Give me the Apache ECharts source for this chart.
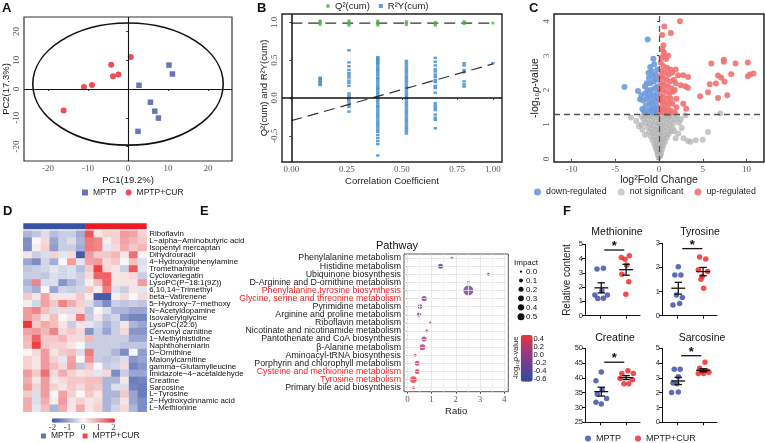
<!DOCTYPE html>
<html><head><meta charset="utf-8">
<script src="https://cdn.jsdelivr.net/npm/echarts@6/dist/echarts.min.js"></script>
<style>html,body{margin:0;padding:0;background:#fff}#c{width:765px;height:443px}</style>
</head><body><div id="c"></div>
<script>
// ===== A: PCA scores =====
const pcaMPTP = [[10.25,8.3],[11.1,5.2],[2.75,1.3],[5.6,-4.6],[6.7,-7.7],[7.6,-10.1],[2.5,-14.7]];
const pcaCUR = [[-16.1,-7.5],[-11,0.7],[-9,1.4],[-4.2,8.4],[-3.75,4.4],[-2.4,5.0],[0.7,11.1]];
const pcaEllipse = [[0,1.7,23.8,21.2]];
const pcaXTicks = [-20,-10,0,10,20];
const pcaYTicks = [-20,-10,0,10,20];

// ===== B: permutation test =====
const permX = [0.143,0.286,0.429,0.571,0.714,0.857,1.0];
const q2Cols = [[0.97,0.99,1.01,1.02],[0.96,0.98,1.0,1.02],[0.96,0.98,1.0,1.02],[0.97,0.99,1.01],[0.96,0.98,1.0],[0.98,1.0,1.01],[0.99]];
const r2Cols = [
  [0.17,0.19,0.21,0.23,0.25,0.27],
  [0.63,0.47,0.42,0.37,0.33,0.3,0.27,0.23,0.2,0.16,0.06,0.03,0.0,-0.03,-0.06,-0.09,-0.12,-0.18],
  [0.54,0.52,0.5,0.48,0.46,0.44,0.41,0.38,0.36,0.33,0.3,0.27,0.25,0.22,0.19,0.16,0.13,0.11,0.08,0.05,0.02,-0.01,-0.04,-0.07,-0.1,-0.12,-0.15,-0.18,-0.21,-0.24,-0.27,-0.3,-0.33,-0.36,-0.39,-0.42,-0.45,-0.49,-0.53,-0.57,-0.61,-0.76],
  [0.49,0.46,0.43,0.4,0.37,0.34,0.31,0.28,0.25,0.22,0.19,0.16,0.13,0.1,0.07,0.04,0.01,-0.02,-0.05,-0.08,-0.11,-0.14,-0.17,-0.2,-0.23,-0.26,-0.29,-0.32,-0.35,-0.38,-0.41,-0.44,-0.47],
  [0.53,0.48,0.43,0.38,0.35,0.31,0.28,0.24,0.21,0.16,0.13,0.07,-0.07,-0.1,-0.13,-0.16,-0.22,-0.26,-0.29,-0.4],
  [0.46,0.43,0.37,0.34,0.22,0.18,0.15],
  [0.46]
];
const r2Fit = [[0,-0.3],[1,0.45]];
const q2Fit = [[0,0.99],[1,0.99]];
const permTickPos = [0,0.276,0.549,0.823,1.0];
const permTickText = ['0.00','0.25','0.50','0.75','1.00'];
const permYTicks = [-0.5,0,0.5,1];

// ===== C: volcano =====
const pCut = 1.3;
const volDown = [[-1.29,3.47],[-3.94,2.09],[-0.64,2.91],[-1.0,2.67],[-0.55,2.75],[-1.2,2.5],[-0.85,2.55],[-1.15,2.35],[-0.7,2.4],[-0.4,2.45],[-1.4,2.2],[-1.0,2.2],[-0.6,2.25],[-0.3,2.3],[-2.4,1.97],[-2.16,1.73],[-1.78,1.41],[-2.0,1.85],[-1.6,1.9],[-1.3,2.0],[-0.9,2.0],[-0.5,2.05],[-0.2,2.1],[-1.8,1.7],[-1.4,1.75],[-1.0,1.8],[-0.6,1.85],[-0.25,1.9],[-1.5,1.55],[-1.1,1.6],[-0.8,1.65],[-0.45,1.7],[-0.15,1.75],[-1.9,1.45],[-1.2,1.4],[-0.9,1.45],[-0.6,1.5],[-0.3,1.55],[-1.6,1.35],[-0.4,1.38],[-0.1,1.42],[-0.7,1.35],[-1.1,1.9],[-0.2,2.6],[-1.6,2.1]];
const volNS = [[-0.05,0.04],[0.08,0.07],[-0.12,0.12],[0.15,0.1],[0.02,0.18],[-0.22,0.2],[0.25,0.17],[0.1,0.26],[-0.3,0.27],[-0.08,0.3],[0.35,0.28],[0.2,0.36],[-0.42,0.35],[-0.15,0.4],[0.5,0.38],[0.05,0.45],[-0.55,0.44],[0.38,0.47],[-0.3,0.5],[0.7,0.5],[0.15,0.55],[-0.75,0.55],[-0.12,0.6],[0.55,0.58],[0.9,0.62],[-0.5,0.63],[0.3,0.66],[-0.95,0.66],[0.0,0.7],[-0.3,0.72],[0.75,0.7],[1.1,0.72],[-0.7,0.76],[0.45,0.78],[-1.15,0.78],[0.15,0.82],[1.35,0.8],[-0.45,0.84],[0.95,0.86],[-0.9,0.88],[-0.15,0.9],[0.6,0.92],[1.55,0.9],[-1.3,0.93],[0.3,0.97],[-0.6,0.98],[1.2,0.98],[-1.05,1.02],[0.0,1.03],[0.85,1.04],[-1.55,1.05],[1.65,1.05],[-0.35,1.08],[0.5,1.1],[-0.8,1.12],[1.3,1.12],[-1.35,1.15],[0.2,1.16],[-1.8,1.17],[1.0,1.18],[-0.1,1.2],[1.9,1.15],[-0.6,1.22],[0.7,1.24],[-1.1,1.25],[1.5,1.24],[-1.6,1.27],[0.35,1.27],[-0.3,1.28],[2.05,1.26],[1.15,1.28],[-2.0,1.24],[0.9,1.29],[-0.85,1.29],[-2.3,0.95],[-3.2,1.2],[-2.6,1.1],[2.5,1.15],[3.0,1.27],[7.0,1.32],[5.6,0.78],[5.0,0.56],[4.2,0.54],[3.3,0.52],[2.8,0.6],[2.2,0.74],[2.6,0.9],[3.6,0.5],[1.9,0.6],[-1.6,0.7],[-2.0,1.0],[1.75,0.8],[2.3,1.05],[-1.9,0.85]];
const volUp = [[0.6,3.85],[2.4,4.0],[1.36,3.66],[0.4,3.17],[0.55,3.1],[1.06,3.0],[0.8,2.9],[5.98,2.77],[7.4,2.88],[7.4,2.82],[8.75,2.77],[10.15,2.8],[10.8,2.48],[10.15,2.4],[10.4,2.45],[8.25,2.46],[6.74,2.42],[7.12,2.36],[7.5,2.24],[6.5,2.19],[5.8,2.17],[5.6,1.94],[4.7,1.82],[6.74,1.77],[7.8,1.85],[2.77,2.43],[3.33,2.38],[2.2,2.43],[2.5,2.14],[3.0,2.11],[3.3,2.07],[2.77,1.6],[3.1,1.46],[2.0,1.5],[1.8,1.35],[0.2,2.8],[0.5,2.7],[0.9,2.65],[1.3,2.6],[0.3,2.55],[0.7,2.5],[1.1,2.45],[1.5,2.5],[0.15,2.4],[0.45,2.35],[0.85,2.3],[1.25,2.25],[1.7,2.3],[0.25,2.2],[0.6,2.15],[1.0,2.1],[1.4,2.05],[0.1,2.05],[0.4,2.0],[0.8,1.95],[1.2,1.9],[1.6,1.95],[0.2,1.85],[0.55,1.8],[0.95,1.75],[1.35,1.75],[0.1,1.7],[0.4,1.65],[0.75,1.6],[1.15,1.6],[1.55,1.6],[0.25,1.5],[0.6,1.45],[1.0,1.45],[1.35,1.4],[0.1,1.4],[0.45,1.35],[0.85,1.33],[1.2,1.32],[0.3,2.95],[0.65,3.0],[1.9,2.6],[1.8,2.0],[2.0,1.75],[1.9,2.2],[0.35,3.6],[0.5,3.3]];
const volXTicks = [-10,-5,0,5,10];
const volYTicks = [0,1,2,3,4];

// ===== D: heatmap =====
const metabolites = ['Riboflavin','L\u2212alpha\u2212Aminobutyric acid','Isopentyl mercaptan','Dihydrouracil','4\u2212Hydroxydiphenylamine','Tromethamine','Cyclovariegatin','LysoPC(P\u221218:1(9Z))','6,10,14\u2212Trimethyl','beta\u2212Vatirenene','5\u2212Hydroxy\u22127\u2212methoxy','N\u2212Acetyldopamine','Isovalerylglycine','LysoPC(22:6)','Cervonyl carnitine','1\u2212Methylhistidine','Naphthoherniarin','D\u2212Ornithine','Malonylcarnitine','gamma\u2212Glutamylleucine','Imidazole\u22124\u2212acetaldehyde','Creatine','Sarcosine','L\u2212Tyrosine','2\u2212Hydroxycinnamic acid','L\u2212Methionine'];
const samples = ['M1','M2','M3','M4','M5','M6','M7','C1','C2','C3','C4','C5','C6','C7'];
const groupSizes = [7,7];
const heatRows = [
[-0.8,-0.6,-0.3,-0.7,-0.5,-0.5,-0.9,1.6,0.2,0.4,0.4,1.0,0.9,0.4],
[-1.3,0.0,0.3,-1.0,-0.5,-0.3,-0.8,1.3,1.2,0.1,0.4,0.9,0.7,0.5],
[-1.3,0.1,0.4,-1.1,-0.5,-0.5,-0.9,1.3,1.2,-0.2,0.3,0.8,0.5,0.7],
[0.2,-0.5,-0.3,0.4,-0.2,0.3,-1.9,1.0,0.5,0.5,0.7,0.2,1.4,0.0],
[-1.0,-1.3,-0.4,-0.9,0.0,1.0,-0.2,0.9,1.0,0.3,0.5,0.0,0.6,-0.3],
[-0.6,-0.5,-0.4,-0.2,-0.4,-0.3,-0.7,0.5,1.8,0.3,0.2,-0.5,1.6,-0.2],
[-0.5,-0.5,-0.6,-0.3,-0.4,-0.3,-0.5,0.3,1.5,1.5,0.2,0.2,0.3,-0.5],
[-0.8,1.2,-0.3,-0.3,-1.2,-0.8,-0.5,0.1,0.6,1.5,0.2,0.2,0.2,1.0],
[-0.6,-0.9,0.0,-1.0,-0.4,-0.5,-0.4,0.5,0.1,1.3,-0.3,-0.5,0.2,-0.2],
[0.5,0.2,0.9,0.2,0.2,0.2,0.5,0.1,-1.9,-1.9,0.1,0.3,0.0,0.3],
[0.1,-0.4,0.9,0.5,1.2,0.8,0.4,-0.3,-0.8,-1.3,-0.5,-0.6,-0.5,-0.6],
[1.0,1.2,0.6,-0.3,0.3,-0.3,0.3,-0.6,0.0,-0.3,-0.8,-0.8,-1.0,-1.0],
[1.0,0.7,0.2,0.6,0.0,0.2,1.3,-0.5,0.2,-0.6,-0.4,-1.2,-1.4,-1.4],
[1.9,0.5,0.8,0.6,0.2,-0.5,0.2,-0.2,-0.4,-0.8,-0.5,0.2,-0.8,-1.0],
[0.9,1.0,0.7,1.2,0.3,0.5,0.3,-1.2,-0.5,-1.0,-0.5,0.3,-1.2,-1.2],
[0.7,1.5,0.5,0.5,0.7,0.3,0.3,0.7,-0.5,-0.5,-0.5,-0.5,-1.0,-1.0],
[0.6,1.8,0.5,0.4,0.4,0.2,0.0,-0.5,-0.5,-0.5,-0.5,-0.6,-0.6,-0.6],
[0.0,0.3,1.0,0.2,0.5,0.6,-0.3,1.3,-0.5,-0.5,-0.8,-1.3,0.0,-1.1],
[0.4,0.2,1.0,0.4,-0.2,0.9,0.0,1.1,-0.5,-0.6,-0.5,-0.3,-1.2,-1.0],
[0.4,0.2,1.0,0.6,0.3,1.0,-0.6,0.5,0.0,-0.5,-0.4,0.3,-1.4,-1.2],
[1.0,0.5,1.4,0.3,0.8,0.4,0.2,0.3,-0.2,0.3,-1.3,-0.5,-1.0,-1.0],
[0.8,0.2,1.0,0.2,0.3,0.5,0.5,0.6,0.6,-0.8,-0.8,0.2,-1.5,-1.4],
[1.0,0.4,1.0,0.4,0.2,0.5,0.3,0.6,0.5,-0.8,-0.3,-0.3,-1.4,-1.5],
[0.5,-0.3,1.0,0.0,0.9,0.4,0.0,0.5,0.2,-0.8,-0.8,0.5,-1.0,-1.5],
[0.8,-0.3,0.8,0.1,1.0,0.2,0.4,0.2,0.3,-0.8,-0.6,0.2,-1.0,-1.3],
[0.8,-0.2,0.6,-0.8,0.8,0.2,0.8,0.2,0.4,-0.8,-0.4,0.3,-0.8,-1.3]
];
const heatScaleLabels = ['-2','-1','0','1','2'];

// ===== E: pathway bubble =====
const pathways = ['Phenylalanine metabolism','Histidine metabolism','Ubiquinone biosynthesis','D-Arginine and D-ornithine metabolism','Phenylalanine,tyrosine biosynthesis','Glycine, serine and threonine metabolism','Pyrimidine metabolism','Arginine and proline metabolism','Riboflavin metabolism','Nicotinate and nicotinamide metabolism','Pantothenate and CoA biosynthesis','\u03b2-Alanine metabolism','Aminoacyl-tRNA biosynthesis','Porphyrin and chlorophyll metabolism','Cysteine and methionine metabolism','Tyrosine metabolism','Primary bile acid biosynthesis'];
const pathRatio = [1.83,1.37,3.35,2.52,2.52,0.69,0.52,0.48,0.95,0.8,0.69,0.62,0.32,0.41,0.41,0.25,0.25];
const pathLogP = [-0.6,-0.55,-0.45,-0.3,-0.25,-0.2,-0.15,-0.1,0.0,0.1,0.05,0.15,0.25,0.3,0.3,0.4,0.4];
const pathImpact = [0.0,0.17,0.03,0.03,0.5,0.19,0.15,0.12,0.01,0.03,0.17,0.23,0.03,0.17,0.17,0.28,0.03];
const pathHighlight = ['Phenylalanine,tyrosine biosynthesis','Glycine, serine and threonine metabolism','Cysteine and methionine metabolism','Tyrosine metabolism'];
const impactLegend = [0.0,0.1,0.2,0.3,0.4,0.5];
const logPLegend = ['0.4','0.2','0.0','-0.2','-0.4','-0.6'];

// ===== F: dot plots =====
const metMPTP = [[0.89,3.27],[1.13,3.32],[0.81,1.45],[0.92,1.2],[1.13,1.22],[1.28,1.45],[1.07,1.75]];
const metCUR = [[1.8,4.07],[1.94,3.95],[2.1,4.2],[2.0,3.55],[1.82,2.9],[2.08,2.37],[1.97,1.5]];
const tyrMPTP = [[1.05,2.03],[0.92,1.69],[1.15,1.69],[0.98,0.86],[1.2,0.75],[0.85,0.44],[1.1,0.51]];
const tyrCUR = [[1.85,2.43],[2.08,2.35],[1.8,1.9],[1.95,1.63],[2.15,1.83],[1.9,1.51],[2.0,1.14]];
const creMPTP = [[1.05,42.0],[0.85,39.0],[1.08,36.0],[0.9,34.5],[1.25,33.0],[0.85,31.8],[1.05,31.2]];
const creCUR = [[1.82,41.5],[2.05,42.4],[2.25,41.5],[1.75,39.8],[2.22,39.4],[1.9,38.0],[2.08,38.0]];
const sarMPTP = [[0.9,3.58],[1.12,3.58],[1.05,3.07],[0.85,2.65],[1.0,2.6],[0.8,2.02],[1.05,2.05]];
const sarCUR = [[2.05,4.05],[1.85,3.65],[2.1,3.5],[1.95,3.45],[2.2,3.38],[1.8,3.3],[2.0,3.3]];
const sigBars = {met:[1.16,1.91,4.6], tyr:[1.2,1.95,2.78], cre:[1.16,1.91,45.3], sar:[1.16,1.91,4.5]};

// ===== build =====
const SERIF='Liberation Serif', SANS='Liberation Sans';
const cBlueA='#3F55A5', cRedA='#E8222A', cBlueF='#3447A8', cRedF='#ED2024';
const grids=[], xAxes=[], yAxes=[], series=[], graphics=[];

function frameTickAxis(gi, opt){
  return Object.assign({gridIndex:gi, type:'value', axisLine:{show:false}, splitLine:{show:false},
    axisTick:{show:true, length:2, lineStyle:{color:'#444'}},
    axisLabel:{fontFamily:SERIF, fontSize:9, color:'#595959', margin:3},
    nameLocation:'middle', nameTextStyle:{fontFamily:SANS, fontSize:9.5, color:'#222'}}, opt);
}

// A
grids.push({left:24, top:17, width:208, height:144, show:true, borderColor:'#333', borderWidth:1.2});
xAxes.push(frameTickAxis(0,{min:-26,max:26, axisTick:{show:true,length:2,customValues:pcaXTicks,lineStyle:{color:'#444'}}, axisLabel:{customValues:pcaXTicks,fontFamily:SERIF,fontSize:9,color:'#595959',margin:3}, name:'PC1(19.2%)', nameGap:14}));
yAxes.push(frameTickAxis(0,{min:-25,max:25, axisTick:{show:true,length:2,customValues:pcaYTicks,lineStyle:{color:'#444'}}, axisLabel:{customValues:pcaYTicks,rotate:90,fontFamily:SERIF,fontSize:9,color:'#595959',margin:3}, name:'PC2(17.3%)', nameGap:12, nameRotate:90}));
series.push({type:'custom', xAxisIndex:0, yAxisIndex:0, data:pcaEllipse, silent:true, z:1,
  renderItem:function(p,api){const c=api.coord([api.value(0),api.value(1)]); const s=api.size([api.value(2),api.value(3)]);
    return {type:'ellipse', shape:{cx:c[0],cy:c[1],rx:s[0],ry:s[1]}, style:{fill:'none',stroke:'#111',lineWidth:1.6}};}});
series.push({type:'scatter', xAxisIndex:0, yAxisIndex:0, data:[], z:1, silent:true,
  markLine:{silent:true, symbol:['none','none'], label:{show:false}, lineStyle:{color:'#111',width:1.1,type:'solid'}, data:[{xAxis:0},{yAxis:0}]}});
series.push({name:'MPTP', type:'scatter', xAxisIndex:0, yAxisIndex:0, data:pcaMPTP, symbol:'rect', symbolSize:5.5, itemStyle:{color:cBlueA}, z:3});
series.push({name:'MPTP+CUR', type:'scatter', xAxisIndex:0, yAxisIndex:0, data:pcaCUR, symbol:'circle', symbolSize:6, itemStyle:{color:cRedA}, z:3});

// B
grids.push({left:282, top:14, width:220, height:148, show:true, borderColor:'#222', borderWidth:1.4});
xAxes.push(frameTickAxis(1,{min:-0.046,max:1.045, axisTick:{show:true,length:2,customValues:permTickPos,lineStyle:{color:'#444'}},
  axisLabel:{customValues:permTickPos,fontFamily:SERIF,fontSize:9,color:'#595959',margin:3,
    formatter:function(v){let bi=0;permTickPos.forEach((p,i)=>{if(Math.abs(p-v)<Math.abs(permTickPos[bi]-v))bi=i;});return permTickText[bi];}},
  name:'Correlation Coefficient', nameGap:14}));
yAxes.push(frameTickAxis(1,{min:-0.846,max:1.11, axisTick:{show:true,length:2,customValues:permYTicks,lineStyle:{color:'#444'}},
  axisLabel:{customValues:permYTicks,rotate:90,fontFamily:SERIF,fontSize:9,color:'#595959',margin:3,formatter:v=>v.toFixed(1)},
  name:'Q\u00b2(cum) and R\u00b2Y(cum)', nameGap:13, nameRotate:90}));
const r2Data=[], q2Data=[];
permX.forEach((x,i)=>{r2Cols[i].forEach(v=>r2Data.push([x,v])); q2Cols[i].forEach(v=>q2Data.push([x,v]));});
series.push({type:'scatter', xAxisIndex:1, yAxisIndex:1, data:[], z:1, silent:true,
  markLine:{silent:true, symbol:['none','none'], label:{show:false}, lineStyle:{color:'#111',width:1.5,type:'solid'}, data:[{xAxis:0},{yAxis:0}]}});
series.push({type:'line', xAxisIndex:1, yAxisIndex:1, data:r2Fit, symbol:'none', silent:true, z:4, lineStyle:{color:'#333',width:1.2,type:[11,6]}});
series.push({type:'line', xAxisIndex:1, yAxisIndex:1, data:q2Fit, symbol:'none', silent:true, z:4, lineStyle:{color:'#333',width:1.2,type:[11,6]}});
series.push({name:'R\u00b2Y(cum)', type:'scatter', xAxisIndex:1, yAxisIndex:1, data:r2Data, symbol:'rect', symbolSize:[3.5,2.4], itemStyle:{color:'#3A86C8'}, z:3});
series.push({name:'Q\u00b2(cum)', type:'scatter', xAxisIndex:1, yAxisIndex:1, data:q2Data, symbol:'rect', symbolSize:[3,2.6], itemStyle:{color:'#4DB04A'}, z:5});

// C
grids.push({left:554, top:14, width:210, height:148, show:true, borderColor:'#222', borderWidth:1.5});
xAxes.push(frameTickAxis(2,{min:-12,max:12, axisTick:{show:true,length:2,customValues:volXTicks,lineStyle:{color:'#444'}}, axisLabel:{customValues:volXTicks,fontFamily:SERIF,fontSize:9,color:'#595959',margin:3},
  name:'log\u00b2Fold Change', nameGap:10, nameTextStyle:{fontFamily:SANS,fontSize:10.5,color:'#222'}}));
yAxes.push(frameTickAxis(2,{min:-0.09,max:4.21, axisTick:{show:true,length:2,customValues:volYTicks,lineStyle:{color:'#444'}}, axisLabel:{customValues:volYTicks,rotate:90,fontFamily:SERIF,fontSize:9,color:'#595959',margin:3},
  name:'{a|-log\u2081\u2080}{i|p}{a|-value}', nameGap:12, nameRotate:90,
  nameTextStyle:{rich:{a:{fontFamily:SANS,fontSize:10.5,color:'#222'},i:{fontFamily:SANS,fontStyle:'italic',fontSize:10.5,color:'#222'}}}}));
series.push({name:'not significant', type:'scatter', xAxisIndex:2, yAxisIndex:2, data:volNS, symbolSize:6, itemStyle:{color:'#B4B4B4',opacity:0.75}, z:2});
series.push({name:'down-regulated', type:'scatter', xAxisIndex:2, yAxisIndex:2, data:volDown, symbolSize:6, itemStyle:{color:'#6B9BDD',opacity:0.9}, z:2});
series.push({name:'up-regulated', type:'scatter', xAxisIndex:2, yAxisIndex:2, data:volUp, symbolSize:6, itemStyle:{color:'#F07272',opacity:0.9}, z:2});
series.push({type:'scatter', xAxisIndex:2, yAxisIndex:2, data:[], z:4, silent:true,
  markLine:{silent:true, symbol:['none','none'], label:{show:false}, lineStyle:{color:'#555',width:1.3,type:[6,4]}, data:[{xAxis:0},{yAxis:pCut}]}});

// D heatmap (grid 3) + group bar (grid 4)
grids.push({left:23.3, top:230.7, width:123.4, height:181});
xAxes.push({gridIndex:3, type:'category', data:samples, show:false});
yAxes.push({gridIndex:3, type:'category', data:metabolites, inverse:true, position:'right', axisLine:{show:false}, axisTick:{show:false}, splitLine:{show:false},
  axisLabel:{interval:0, fontFamily:SANS, fontSize:7.9, color:'#111', margin:2.5}});
const heatData=[];
heatRows.forEach((row,r)=>row.forEach((v,c)=>heatData.push([c,r,v])));
const heatIdx = series.length;
series.push({type:'heatmap', xAxisIndex:3, yAxisIndex:3, data:heatData, silent:true, emphasis:{disabled:true}});
grids.push({left:23.3, top:223.3, width:123.4, height:6});
xAxes.push({gridIndex:4, type:'value', min:0, max:groupSizes[0]+groupSizes[1], show:false});
yAxes.push({gridIndex:4, type:'category', data:['group'], show:false});
series.push({name:'MPTP', type:'bar', xAxisIndex:4, yAxisIndex:4, stack:'grp', data:[groupSizes[0]], barWidth:'100%', itemStyle:{color:'#3953A4'}, silent:true});
series.push({name:'MPTP+CUR', type:'bar', xAxisIndex:4, yAxisIndex:4, stack:'grp', data:[groupSizes[1]], barWidth:'100%', itemStyle:{color:'#ED1C24'}, silent:true});

// E (grid 5)
grids.push({left:404, top:254, width:104.3, height:137.7, show:true, borderColor:'#555', borderWidth:1, backgroundColor:'#fff'});
xAxes.push({gridIndex:5, type:'value', min:-0.14, max:4.17, axisLine:{show:false}, splitLine:{show:false},
  axisTick:{show:true,length:2,customValues:[0,1,2,3,4],lineStyle:{color:'#444'}},
  axisLabel:{customValues:[0,1,2,3,4],fontFamily:SERIF,fontSize:9,color:'#595959',margin:3},
  name:'Ratio', nameLocation:'middle', nameGap:15, nameTextStyle:{fontFamily:SANS,fontSize:9.5,color:'#222'}});
yAxes.push({gridIndex:5, type:'category', data:pathways, inverse:true, axisLine:{show:false}, splitLine:{show:false},
  axisTick:{show:true, alignWithLabel:true, interval:0, length:2, lineStyle:{color:'#333'}},
  axisLabel:{interval:0, fontFamily:SANS, fontSize:8.8, margin:3, color:function(v){return pathHighlight.indexOf(v)>=0?'#E8232A':'#222';}}});
const eGridLines=[];
[0,0.5,1,1.5,2,2.5,3,3.5,4].forEach(v=>eGridLines.push({xAxis:v, lineStyle:{color:(v%1===0)?'#E3E3E3':'#F0F0F0',width:0.8,type:'solid'}}));
pathways.forEach(n=>eGridLines.push({yAxis:n, lineStyle:{color:'#E3E3E3',width:0.8,type:'solid'}}));
series.push({type:'scatter', xAxisIndex:5, yAxisIndex:5, data:[], z:1, silent:true,
  markLine:{silent:true, symbol:['none','none'], label:{show:false}, data:eGridLines}});
const pathIdx = series.length;
series.push({type:'scatter', xAxisIndex:5, yAxisIndex:5, z:3,
  data:pathways.map((n,i)=>[pathRatio[i], i, pathLogP[i], pathImpact[i]]),
  encode:{x:0,y:1}, symbolSize:function(v){return 2.5+v[3]*15;}});

// F (grids 6-9)
const fPanels = [
  {key:'met', left:585, top:244.3, h:71.4, min:0, max:5, iv:1, a:metMPTP, b:metCUR, name:'Relative content'},
  {key:'tyr', left:662, top:243.3, h:72.4, min:0, max:3, iv:1, a:tyrMPTP, b:tyrCUR},
  {key:'cre', left:585, top:348.3, h:74, min:25, max:50, iv:5, a:creMPTP, b:creCUR},
  {key:'sar', left:662, top:348.3, h:74, min:0, max:5, iv:1, a:sarMPTP, b:sarCUR}
];
function meanSem(arr){const v=arr.map(d=>d[1]);const n=v.length;const m=v.reduce((s,x)=>s+x,0)/n;const sd=Math.sqrt(v.reduce((s,x)=>s+(x-m)*(x-m),0)/(n-1));return [m,sd/Math.sqrt(n)];}
fPanels.forEach((p,k)=>{
  const gi = 6+k;
  grids.push({left:p.left, top:p.top, width:55, height:p.h});
  xAxes.push({gridIndex:gi, type:'value', min:0.44, max:2.5, splitLine:{show:false},
    axisLine:{show:true, lineStyle:{color:'#111',width:1}},
    axisTick:{show:true, length:3, customValues:[1,2], lineStyle:{color:'#111'}}, axisLabel:{show:false}});
  const ya = {gridIndex:gi, type:'value', min:p.min, max:p.max, interval:p.iv, splitLine:{show:false},
    axisLine:{show:true, lineStyle:{color:'#111',width:1}}, axisTick:{show:true,length:3,lineStyle:{color:'#111'}},
    axisLabel:{fontFamily:SANS,fontSize:7.5,color:'#222',margin:2}};
  if(p.name){Object.assign(ya,{name:p.name,nameLocation:'middle',nameGap:13,nameRotate:90,nameTextStyle:{fontFamily:SANS,fontSize:10,color:'#222'}});}
  yAxes.push(ya);
  series.push({name:'MPTP', type:'scatter', xAxisIndex:gi, yAxisIndex:gi, data:p.a, symbolSize:5.5, itemStyle:{color:cBlueF}, z:2});
  series.push({name:'MPTP+CUR', type:'scatter', xAxisIndex:gi, yAxisIndex:gi, data:p.b, symbolSize:5.5, itemStyle:{color:cRedF}, z:2});
  const sa=meanSem(p.a), sb=meanSem(p.b);
  series.push({type:'custom', xAxisIndex:gi, yAxisIndex:gi, silent:true, z:4, data:[[1.05,sa[0],sa[1]],[1.98,sb[0],sb[1]]],
    renderItem:function(prm,api){const x=api.value(0),m=api.value(1),s=api.value(2);
      const c=api.coord([x,m]),t=api.coord([x,m+s]),b=api.coord([x,m-s]);
      const hw=api.size([0.26,0])[0], cw=api.size([0.14,0])[0]; const st={stroke:'#111',lineWidth:1.3};
      return {type:'group',children:[
        {type:'line',shape:{x1:c[0]-hw,y1:c[1],x2:c[0]+hw,y2:c[1]},style:st},
        {type:'line',shape:{x1:c[0],y1:t[1],x2:c[0],y2:b[1]},style:st},
        {type:'line',shape:{x1:c[0]-cw,y1:t[1],x2:c[0]+cw,y2:t[1]},style:st},
        {type:'line',shape:{x1:c[0]-cw,y1:b[1],x2:c[0]+cw,y2:b[1]},style:st}]};}});
  series.push({type:'custom', xAxisIndex:gi, yAxisIndex:gi, silent:true, z:4, data:[sigBars[p.key]],
    renderItem:function(prm,api){const a=api.coord([api.value(0),api.value(2)]), b=api.coord([api.value(1),api.value(2)]);
      return {type:'group',children:[
        {type:'line',shape:{x1:a[0],y1:a[1],x2:b[0],y2:b[1]},style:{stroke:'#111',lineWidth:1.3}},
        {type:'text',style:{text:'*',x:(a[0]+b[0])/2,y:a[1]+3,align:'center',textAlign:'center',verticalAlign:'bottom',textVerticalAlign:'bottom',font:'bold 13px Liberation Sans',fill:'#111'}}]};}});
});

// ----- graphics (panel letters, titles, legend helpers) -----
function txt(t,x,y,font,opt){return Object.assign({type:'text',x:x,y:y,silent:true,style:{text:t,font:font,fill:'#111',align:'left',textAlign:'left',verticalAlign:'middle',textVerticalAlign:'middle'}},opt||{});}
[['A',2,8],['B',257,8],['C',529,8],['D',3,211],['E',200,211],['F',563,211]].forEach(a=>graphics.push(txt(a[0],a[1],a[2],'bold 13px Liberation Sans')));
function ctxt(t,x,y,font){const g=txt(t,x,y,font);g.style.align='center';g.style.textAlign='center';return g;}
graphics.push(ctxt('Pathway',397,246,'11px Liberation Sans'));
graphics.push(ctxt('Methionine',617,232,'10.5px Liberation Sans'));
graphics.push(ctxt('Tyrosine',700,232,'10.5px Liberation Sans'));
graphics.push(ctxt('Creatine',615,338,'10.5px Liberation Sans'));
graphics.push(ctxt('Sarcosine',702,338,'10.5px Liberation Sans'));
// heatmap scale labels
const hsX=[52.5,67.5,83,98.5,113.5];
heatScaleLabels.forEach((t,i)=>{const g=ctxt(t,hsX[i],427.5,'9px Liberation Serif');g.style.fill='#444';graphics.push(g);});
// impact size legend
graphics.push(txt('Impact',514,262.5,'8px Liberation Sans'));
const impY=[271.7,280.5,289.3,298.3,307.3,316.7];
const impD=[2.3,4,5,5.7,6.3,7];
impactLegend.forEach((v,i)=>{
  graphics.push({type:'circle',x:521,y:impY[i],silent:true,shape:{cx:0,cy:0,r:impD[i]/2},style:{fill:'#111'}});
  graphics.push(txt(v.toFixed(1),526,impY[i],'8px Liberation Sans'));
});
const lpY=[339,347,355,363,371,378.5];
logPLegend.forEach((t,i)=>graphics.push(txt(t,533.5,lpY[i],'7.5px Liberation Sans')));
graphics.push({type:'text',x:515.5,y:358,rotation:Math.PI/2,silent:true,style:{text:'{a|-log\u2081\u2080}{i|p}{a|-value}',align:'center',textAlign:'center',verticalAlign:'middle',textVerticalAlign:'middle',
  rich:{a:{font:'7.5px Liberation Sans',fill:'#222'},i:{font:'italic 7.5px Liberation Sans',fill:'#222'}}}});

const legTS = (fs)=>({fontFamily:SANS,fontSize:fs,color:'#222'});
const option = {
  animation:false,
  textStyle:{fontFamily:SANS},
  grid:grids, xAxis:xAxes, yAxis:yAxes, series:series,
  visualMap:[
    {type:'continuous', seriesIndex:heatIdx, min:-2, max:2, orient:'horizontal', left:51.7, top:418.3, itemWidth:4.5, itemHeight:63.3, padding:0, calculable:false, hoverLink:false,
      inRange:{color:['#3B54A4','#9AA5D2','#F8F6F6','#F29A9C','#EE2A2E']}},
    {type:'continuous', seriesIndex:pathIdx, dimension:2, min:-0.6, max:0.4, orient:'vertical', left:520.7, top:335, itemWidth:12, itemHeight:46.7, padding:0, calculable:false, hoverLink:false,
      inRange:{color:['#2A4B9F','#6A3F94','#A0397A','#E8353B']}}
  ],
  legend:[
    {left:82, top:188, padding:0, itemWidth:6, itemHeight:6, itemGap:9, selectedMode:false, textStyle:legTS(8.5),
      data:[{name:'MPTP',icon:'rect',itemStyle:{color:cBlueA}},{name:'MPTP+CUR',icon:'circle',itemStyle:{color:cRedA}}]},
    {left:326, top:1, padding:0, itemWidth:4, itemHeight:4, itemGap:9, selectedMode:false, textStyle:legTS(9.5),
      data:[{name:'Q\u00b2(cum)',icon:'circle',itemStyle:{color:'#4DB04A'}},{name:'R\u00b2Y(cum)',icon:'rect',itemStyle:{color:'#3A86C8'}}]},
    {left:534, top:187.5, width:240, padding:0, itemWidth:7, itemHeight:7, itemGap:11, selectedMode:false, textStyle:legTS(8.8),
      data:[{name:'down-regulated',icon:'circle',itemStyle:{color:'#6B9BDD'}},{name:'not significant',icon:'circle',itemStyle:{color:'#BEBEBE'}},{name:'up-regulated',icon:'circle',itemStyle:{color:'#F07272'}}]},
    {left:41, top:431.5, padding:0, itemWidth:5, itemHeight:5, itemGap:8, selectedMode:false, textStyle:legTS(8.5),
      data:[{name:'MPTP',icon:'rect',itemStyle:{color:'#3953A4'}},{name:'MPTP+CUR',icon:'rect',itemStyle:{color:'#ED1C24'}}]},
    {left:585, top:434, padding:0, itemWidth:6, itemHeight:6, itemGap:14, selectedMode:false, textStyle:legTS(9),
      data:[{name:'MPTP',icon:'circle',itemStyle:{color:cBlueF}},{name:'MPTP+CUR',icon:'circle',itemStyle:{color:cRedF}}]}
  ],
  graphic:{elements:graphics}
};
const chart = echarts.init(document.getElementById('c'), null, {renderer:'canvas', width:765, height:443});
chart.setOption(option);
</script></body></html>
